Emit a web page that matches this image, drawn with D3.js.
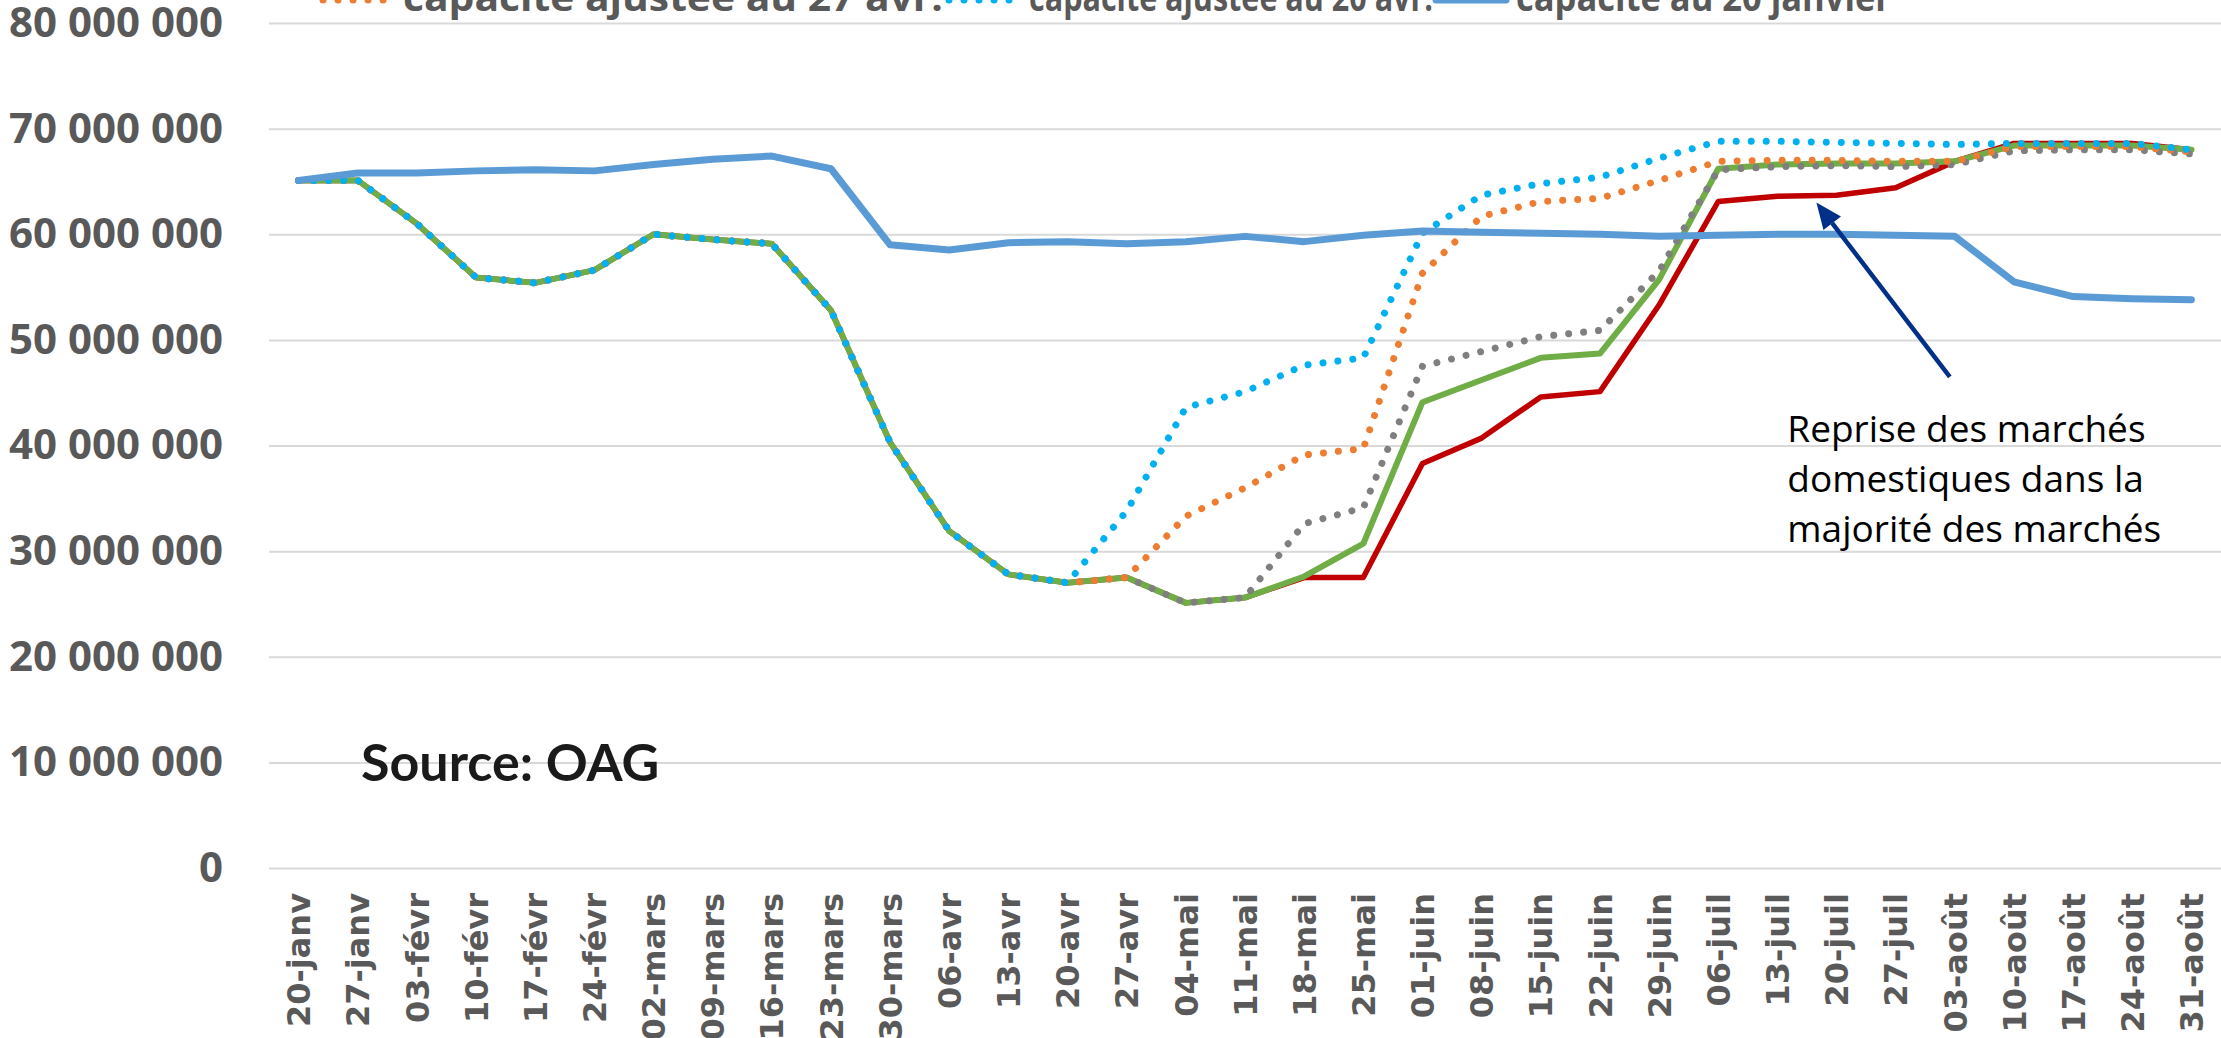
<!DOCTYPE html>
<html>
<head>
<meta charset="utf-8">
<script src="https://cdn.jsdelivr.net/npm/d3@7"></script>
<style>
  body { margin: 0; background: #fff; overflow: hidden; }
  svg { display: block; }
</style>
</head>
<body>
<div id="chart"></div>
<script>
// weekly seat capacity, in millions
let weeks = ["20-janv","27-janv","03-févr","10-févr","17-févr","24-févr","02-mars","09-mars","16-mars","23-mars","30-mars",
  "06-avr","13-avr","20-avr","27-avr","04-mai","11-mai","18-mai","25-mai","01-juin","08-juin","15-juin","22-juin","29-juin",
  "06-juil","13-juil","20-juil","27-juil","03-août","10-août","17-août","24-août","31-août"];

let yTicks = [0, 10, 20, 30, 40, 50, 60, 70, 80];

let capaRed = [65.1, 65.1, 61.0, 55.9, 55.4, 56.6, 60.0, 59.5, 59.1, 52.8, 40.3, 31.9, 27.8, 27.0, 27.5,
  25.1, 25.6, 27.5, 27.5, 38.3, 40.7, 44.6, 45.1, 53.3, 63.1, 63.6, 63.7, 64.4, 66.9, 68.6, 68.6, 68.6, 68.0];
let capaGreen = [65.1, 65.1, 61.0, 55.9, 55.4, 56.6, 60.0, 59.5, 59.1, 52.8, 40.3, 31.9, 27.8, 27.0, 27.5,
  25.1, 25.6, 27.6, 30.7, 44.1, 46.2, 48.3, 48.7, 55.7, 66.2, 66.6, 66.7, 66.7, 66.9, 68.4, 68.4, 68.4, 68.0];
let capaGray = [65.1, 65.1, 61.0, 55.9, 55.4, 56.6, 60.0, 59.5, 59.1, 52.8, 40.3, 31.9, 27.8, 27.0, 27.5,
  25.1, 25.6, 32.6, 34.1, 47.5, 48.9, 50.3, 50.9, 56.5, 66.1, 66.4, 66.5, 66.4, 66.6, 67.9, 68.0, 68.0, 67.6];
let capa27avr = [65.1, 65.1, 61.0, 55.9, 55.4, 56.6, 60.0, 59.5, 59.1, 52.8, 40.3, 31.9, 27.8, 27.0, 27.5,
  33.3, 36.0, 39.1, 39.7, 56.3, 61.7, 63.1, 63.4, 65.1, 66.9, 67.0, 67.0, 66.9, 66.9, 68.3, 68.3, 68.3, 67.8];
let capa20avr = [65.1, 65.1, 61.0, 55.9, 55.4, 56.6, 60.0, 59.5, 59.1, 52.8, 40.3, 31.9, 27.8, 27.0, 33.8,
  43.6, 45.1, 47.6, 48.3, 60.1, 63.7, 64.8, 65.4, 67.2, 68.8, 68.8, 68.7, 68.6, 68.5, 68.6, 68.6, 68.6, 68.0];
let capa20janv = [65.1, 65.8, 65.8, 66.0, 66.1, 66.0, 66.6, 67.1, 67.4, 66.2, 59.0, 58.5, 59.2, 59.3, 59.1,
  59.3, 59.8, 59.3, 59.9, 60.3, 60.2, 60.1, 60.0, 59.8, 59.9, 60.0, 60.0, 59.9, 59.8, 55.5, 54.1, 53.9, 53.8];

let legendNames = ["capacité ajustée au 27 avr.", "capacité ajustée au 20 avr.", "capacité au 20 janvier"];
let noteLines = ["Reprise des marchés", "domestiques dans la", "majorité des marchés"];

// drawing order: first is bottom
let series = [
  { values: capaRed,    color: "#C00000", width: 5.5, dotted: false },
  { values: capaGreen,  color: "#70AD47", width: 6,   dotted: false },
  { values: capaGray,   color: "#7F7F7F", width: 7,   dotted: true },
  { values: capa27avr,  color: "#ED7D31", width: 7,   dotted: true, legend: 0 },
  { values: capa20avr,  color: "#00B0F0", width: 7,   dotted: true, legend: 1 },
  { values: capa20janv, color: "#5B9BD5", width: 7,   dotted: false, legend: 2 }
];

let width = 2221;
let height = 1038;
let margin = ({ top: 23, right: 0, bottom: 170, left: 269 });
let grey = "#595959";

let svg = d3.select("#chart").append("svg")
  .attr("width", width)
  .attr("height", height)
  .attr("viewBox", [0, 0, width, height]);

let x = d3.scalePoint()
  .domain(weeks)
  .range([margin.left, width - margin.right])
  .padding(0.5);

let y = d3.scaleLinear()
  .domain([0, 80e6])
  .range([height - margin.bottom, margin.top]);

let fmt = d3.formatLocale({ decimal: ",", thousands: " ", grouping: [3], currency: ["", " €"] }).format(",");

// y axis + gridlines
svg.append("g")
  .attr("transform", `translate(${margin.left},0)`)
  .call(d3.axisLeft(y).tickValues(yTicks.map(d => d * 1e6)).tickFormat(fmt)
    .tickSize(-(width - margin.left - margin.right)).tickPadding(46))
  .call(g => g.select(".domain").remove())
  .call(g => g.selectAll(".tick line").attr("stroke", "#D9D9D9").attr("stroke-width", 2))
  .call(g => g.selectAll(".tick text")
    .attr("fill", grey)
    .attr("font-family", "'Open Sans', sans-serif")
    .attr("font-weight", "bold")
    .attr("font-size", 42));

// x axis labels, rotated
svg.append("g")
  .attr("transform", `translate(0,${y(0)})`)
  .call(d3.axisBottom(x).tickSize(0))
  .call(g => g.select(".domain").remove())
  .call(g => g.selectAll(".tick text")
    .attr("transform", "rotate(-90)")
    .attr("x", -25)
    .attr("y", 0)
    .attr("dy", "0.35em")
    .attr("text-anchor", "end")
    .attr("fill", grey)
    .attr("font-family", "'DejaVu Sans', sans-serif")
    .attr("font-weight", "bold")
    .attr("font-size", 32));

let line = d3.line()
  .x((d, i) => x(weeks[i]))
  .y(d => y(d * 1e6));

svg.append("g")
  .selectAll("path")
  .data(series)
  .join("path")
  .attr("fill", "none")
  .attr("stroke", d => d.color)
  .attr("stroke-width", d => d.width)
  .attr("stroke-linejoin", "round")
  .attr("stroke-linecap", "round")
  .attr("stroke-dasharray", d => d.dotted ? "0.01 15" : null)
  .attr("d", d => line(d.values));

// legend (only its lower row is inside the picture)
let legendX = [323, 949, 1436];
let legendW = [540, 404, 375];
let legend = svg.append("g")
  .selectAll("g")
  .data(series.filter(d => d.legend !== undefined))
  .join("g")
  .attr("transform", d => `translate(${legendX[d.legend]},0)`);

legend.append("line")
  .attr("x1", 0).attr("x2", 70)
  .attr("y1", 0).attr("y2", 0)
  .attr("stroke", d => d.color)
  .attr("stroke-width", d => d.width)
  .attr("stroke-linecap", "round")
  .attr("stroke-dasharray", d => d.dotted ? "0.01 15" : null);

legend.append("text")
  .attr("x", 80)
  .attr("y", 11)
  .attr("fill", grey)
  .attr("font-family", "'Open Sans', sans-serif")
  .attr("font-weight", "bold")
  .attr("font-size", 38)
  .attr("textLength", d => legendW[d.legend])
  .attr("lengthAdjust", "spacingAndGlyphs")
  .text(d => legendNames[d.legend]);

// source
svg.append("text")
  .attr("x", 361)
  .attr("y", y(8.2e6))
  .attr("fill", "#1a1a1a")
  .attr("font-family", "Lato, sans-serif")
  .attr("font-weight", "bold")
  .attr("font-size", 52)
  .text("Source: OAG");

// annotation text and arrow
let step = x.step();
svg.append("g")
  .attr("font-family", "'Open Sans', sans-serif")
  .attr("font-size", 37)
  .attr("fill", "#000")
  .selectAll("text")
  .data(noteLines)
  .join("text")
  .attr("x", x("13-juil") + 10)
  .attr("y", (d, i) => y(40.3e6) + i * 50)
  .text(d => d);

let tail = [x("03-août") - 5, y(46.5e6)];
let head = [x("13-juil") + 0.66 * step, y(63.0e6)];
let ang = Math.atan2(head[1] - tail[1], head[0] - tail[0]);
let hl = 26, hw = 11;
let base = [head[0] - hl * Math.cos(ang), head[1] - hl * Math.sin(ang)];

svg.append("line")
  .attr("x1", tail[0]).attr("y1", tail[1])
  .attr("x2", base[0]).attr("y2", base[1])
  .attr("stroke", "#003087")
  .attr("stroke-width", 4.5);

svg.append("path")
  .attr("fill", "#003087")
  .attr("d", d3.line()([
    head,
    [base[0] + hw * Math.sin(ang), base[1] - hw * Math.cos(ang)],
    [base[0] - hw * Math.sin(ang), base[1] + hw * Math.cos(ang)]
  ]) + "Z");
</script>
</body>
</html>
